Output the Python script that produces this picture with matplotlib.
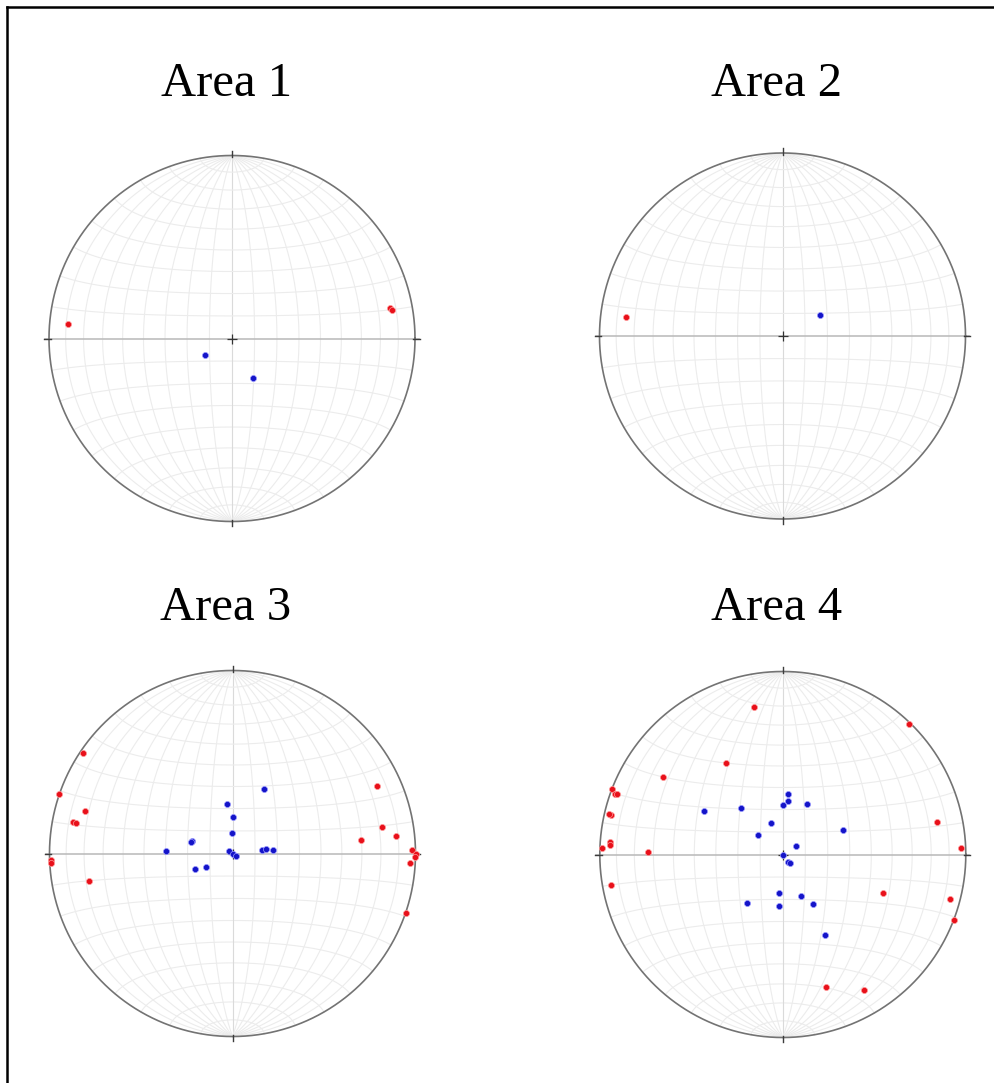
import numpy as np
import matplotlib
matplotlib.use("Agg")
import matplotlib.pyplot as plt
from matplotlib.lines import Line2D

W, H = 995, 1083
NET_R = 183  # primitive radius in pixels

titles = ["Area 1", "Area 2", "Area 3", "Area 4"]

# trend / plunge in degrees, lower hemisphere
red_trend = [
    [275, 79, 80],
    [277],
    [304, 289, 286, 281, 281, 268, 267, 259, 65, 80, 84, 84, 89, 90, 91, 93, 109],
    [349, 44, 328, 303, 291, 290, 290, 283, 283, 274, 273, 272, 271, 260, 78, 88, 111, 105, 111, 162, 149],
]
red_plunge = [
    [11, 13, 12],
    [15],
    [2, 0, 17, 12, 14, 1, 1, 21, 14, 18, 11, 30, 2, 0, 0, 3, 0],
    [19, 1, 41, 23, 0, 3, 4, 4, 3, 6, 6, 1, 27, 5, 15, 3, 41, 6, 0, 25, 15],
]
blue_trend = [
    [239, 152],
    [61],
    [26, 354, 1, 358, 287, 285, 272, 300, 45, 121, 83, 83, 85, 248, 243],
    [5, 6, 360, 26, 299, 318, 339, 308, 68, 58, 292, 141, 140, 185, 156, 149, 216, 184, 152],
]
blue_plunge = [
    [76, 70],
    [71],
    [58, 68, 74, 81, 71, 71, 60, 88, 90, 88, 77, 75, 72, 72, 77],
    [63, 66, 68, 65, 49, 62, 75, 76, 61, 83, 90, 86, 85, 73, 70, 64, 63, 67, 49],
]

# net centres and title anchors (pixels from top-left)
centres = [(232, 338.5), (782.5, 336), (232.5, 853.5), (782.8, 854.5)]
title_pos = [(227, 96), (777, 96), (226, 620), (777, 620)]


def project(trend, plunge):
    # Lambert equal-area projection, primitive radius 1
    tr = np.radians(np.asarray(trend, float))
    pl = np.radians(np.asarray(plunge, float))
    r = np.sqrt(2) * np.sin((np.pi / 2 - pl) / 2)
    return r * np.sin(tr), r * np.cos(tr)


def sphere_xy(lon, lat):
    # equal-area net with meridians converging at N and S
    x = np.cos(lat) * np.sin(lon)
    y = np.sin(lat)
    c = np.cos(lat) * np.cos(lon)
    k = 1 / np.sqrt(1 + c)
    return x * k, y * k


def draw_net(ax):
    t = np.radians(np.linspace(-90, 90, 361))
    for d in range(-80, 81, 10):
        a = np.full_like(t, np.radians(d))
        # small circles about the N-S axis
        if d != 0:
            ax.plot(*sphere_xy(t, a), color="#ececec", lw=0.8, zorder=1)
        # great circles through N and S
        col = "#dadada" if d == 0 else "#ececec"
        ax.plot(*sphere_xy(a, t), color=col, lw=0.8, zorder=1)
    ax.plot([-1.02, 1.02], [0, 0], color="#bdbdbd", lw=1.2, zorder=2)
    th = np.linspace(0, 2 * np.pi, 721)
    ax.plot(np.cos(th), np.sin(th), color="#737373", lw=1.2, zorder=3)
    for ang in np.radians([0, 90, 180, 270]):
        ax.plot([0.99 * np.sin(ang), 1.025 * np.sin(ang)],
                [0.99 * np.cos(ang), 1.025 * np.cos(ang)],
                color="#3c3c3c", lw=1.0, zorder=3)
    ax.plot(0, 0, marker="+", ms=7, mew=0.9, color="#333333", zorder=3)


fig = plt.figure(figsize=(W / 100, H / 100), dpi=100)
half = 1.1 * NET_R
for i in range(4):
    cx, cy = centres[i]
    ax = fig.add_axes([(cx - half) / W, (H - cy - half) / H, 2 * half / W, 2 * half / H])
    ax.set_xlim(-1.1, 1.1)
    ax.set_ylim(-1.1, 1.1)
    ax.set_aspect("equal")
    ax.axis("off")
    draw_net(ax)
    rx, ry = project(red_trend[i], red_plunge[i])
    bx, by = project(blue_trend[i], blue_plunge[i])
    ax.plot(rx, ry, "o", ms=4.4, color="#e8101a", mec="#ff9a9a", mew=0.5, zorder=5)
    ax.plot(bx, by, "o", ms=4.4, color="#1414c8", mec="#9a9aff", mew=0.5, zorder=5)
    tx, ty = title_pos[i]
    fig.text(tx / W, 1 - ty / H, titles[i], ha="center", va="baseline",
             fontsize=35, family="Liberation Serif")

# frame along the top and left edges
fig.add_artist(Line2D([7 / W, 7 / W], [0, 1 - 7 / H], color="black", lw=1.8))
fig.add_artist(Line2D([7 / W, 1], [1 - 7 / H, 1 - 7 / H], color="black", lw=1.8))

fig.savefig("out.png", dpi=100, facecolor="white")
